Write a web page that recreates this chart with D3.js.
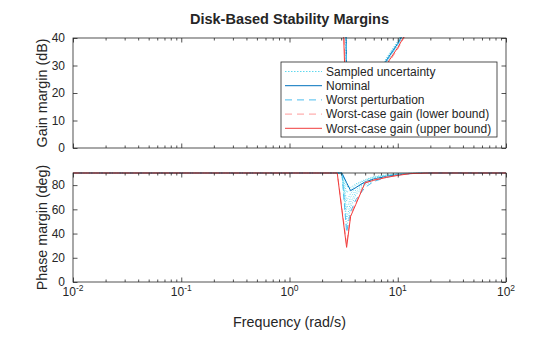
<!DOCTYPE html>
<html>
<head>
<meta charset="utf-8">
<script src="https://cdn.jsdelivr.net/npm/d3@7"></script>
<style>
  body { margin: 0; background: #fff; }
  svg { font-family: "Liberation Sans", Arial, Helvetica, sans-serif; }
</style>
</head>
<body>
<svg id="chart" width="560" height="337"></svg>
<script>
// frequency grid (rad/s), 300 dB stands for "off the chart" (infinite margin)
const freq = [0.01, 2.5, 2.76, 3.05, 3.37, 3.67, 4.1, 4.98, 6, 7.9, 10, 13, 20, 100];

// gain margin (dB)
const gainNominal = [300, 300, 300, 300, 14, 12, 13, 17, 23, 32, 38, 46, 60, 300];
const gainWorstPert = [300, 300, 300, 300, 13.5, 11.5, 12.5, 16.5, 22.6, 31.6, 37.6, 45.6, 59.6, 300];
const gainLower = [300, 300, 300, 70, 8.5, 8, 10, 14, 21, 30, 36, 44, 57.5, 300];
const gainUpper = [300, 300, 300, 60, 8, 7.5, 9.5, 13.5, 21.5, 30.5, 36.5, 44.5, 58, 300];
const gainSamples = [
  [300, 300, 300, 300, 13, 11, 12, 16, 22.3, 31.3, 37.3, 45.3, 59.3, 300],
  [300, 300, 300, 300, 13.5, 11.5, 12.5, 16.5, 22.8, 31.8, 37.8, 45.8, 59.8, 300],
  [300, 300, 300, 300, 14.5, 12.5, 13.5, 17.5, 23.3, 32.3, 38.3, 46.3, 60.3, 300],
  [300, 300, 300, 300, 15, 13, 14, 18, 23.6, 32.6, 38.6, 46.6, 60.6, 300],
  [300, 300, 300, 300, 15.5, 13.5, 14.5, 18.5, 23.9, 32.9, 38.9, 46.9, 60.9, 300]
];

// phase margin (deg)
const phaseNominal = [90, 90, 90, 90, 82, 75.4, 78, 82.6, 85, 87.2, 88.5, 89.5, 90, 90];
const phaseWorstPert = [90, 90, 90, 90, 41, 58, 68, 78, 83, 86.5, 88.5, 89.5, 90, 90];
const phaseLower = [90, 90, 90, 61, 31, 56, 65.5, 82.3, 84.5, 86.8, 88.2, 89.6, 90, 90];
const phaseUpper = [90, 90, 90, 59, 28.6, 54.2, 64.1, 81.8, 84, 86.4, 88, 89.5, 90, 90];
const phaseSamples = [
  [90, 90, 90, 90, 45, 62, 72, 80, 84, 87, 88.7, 89.5, 90, 90],
  [90, 90, 90, 90, 52, 66, 74, 81, 85, 87.5, 89, 89.6, 90, 90],
  [90, 90, 90, 89, 60, 70, 76, 82, 85.5, 87.8, 89, 89.7, 90, 90],
  [90, 90, 90, 90, 67, 73, 78, 83, 86, 88, 89.2, 89.7, 90, 90],
  [90, 90, 90, 89, 74, 76, 80, 84, 86.5, 88.2, 89.3, 89.8, 90, 90],
  [90, 90, 90, 90, 79, 78, 81, 84.5, 87, 88.5, 89.4, 89.8, 90, 90]
];

const gainTicks = [0, 10, 20, 30, 40];
const phaseTicks = [0, 20, 40, 60, 80];
const decades = [-2, -1, 0, 1, 2];

const legendLabels = ['Sampled uncertainty', 'Nominal', 'Worst perturbation',
  'Worst-case gain (lower bound)', 'Worst-case gain (upper bound)'];

const styles = {
  sample: {color: '#5fd8ee', dash: '1,1.6', width: 1},
  nominal: {color: '#0072BD', dash: null, width: 1},
  pert: {color: '#4DBEEE', dash: '6,4', width: 1},
  lower: {color: '#ff9a9a', dash: '6,4', width: 1},
  upper: {color: '#f03c3c', dash: null, width: 1}
};

const svg = d3.select('#chart');
const ink = '#262626';
const left = 73, right = 506;

const x = d3.scaleLog().domain([0.01, 100]).range([left, right]);
const yG = d3.scaleLinear().domain([0, 40]).range([148, 38]);
const yP = d3.scaleLinear().domain([0, 90]).range([282, 173]);

const minorTicks = x.ticks().filter(v => !decades.some(d => Math.abs(Math.log10(v) - d) < 1e-9));
const majorTicks = decades.map(d => Math.pow(10, d));

function panel(y, ticks, id, series) {
  const [bottom, top] = y.range();
  const g = svg.append('g');

  svg.append('clipPath').attr('id', id)
    .append('rect').attr('x', left).attr('y', top - 1)
    .attr('width', right - left).attr('height', bottom - top + 1);

  const plot = g.append('g').attr('clip-path', `url(#${id})`);
  const line = d3.line().x((d, i) => x(freq[i])).y(d => y(Math.min(d, 300)));

  series.forEach(s => {
    plot.append('path')
      .attr('d', line(s.values))
      .attr('fill', 'none')
      .attr('stroke', s.style.color)
      .attr('stroke-width', s.style.width)
      .attr('stroke-dasharray', s.style.dash);
  });

  // box
  g.append('rect').attr('x', left).attr('y', top)
    .attr('width', right - left).attr('height', bottom - top)
    .attr('fill', 'none').attr('stroke', ink).attr('stroke-width', 0.8);

  const tickStyle = sel => {
    sel.select('.domain').remove();
    sel.selectAll('line').attr('stroke', ink).attr('stroke-width', 0.8);
    sel.selectAll('text').attr('fill', ink).style('font-size', '12px');
  };

  g.append('g').attr('transform', `translate(${left},0)`)
    .call(d3.axisLeft(y).tickValues(ticks).tickSize(-4.5).tickPadding(8))
    .call(tickStyle);
  g.append('g').attr('transform', `translate(${right},0)`)
    .call(d3.axisRight(y).tickValues(ticks).tickSize(-4.5).tickFormat(''))
    .call(tickStyle);

  [[bottom, d3.axisBottom], [top, d3.axisTop]].forEach(([pos, ax]) => {
    g.append('g').attr('transform', `translate(0,${pos})`)
      .call(ax(x).tickValues(majorTicks).tickSize(-4.5).tickFormat(''))
      .call(tickStyle);
    g.append('g').attr('transform', `translate(0,${pos})`)
      .call(ax(x).tickValues(minorTicks).tickSize(-2.5).tickFormat(''))
      .call(tickStyle);
  });

  return g;
}

const gainSeries = [
  ...gainSamples.map(v => ({values: v, style: styles.sample})),
  {values: gainNominal, style: styles.nominal},
  {values: gainWorstPert, style: styles.pert},
  {values: gainLower, style: styles.lower},
  {values: gainUpper, style: styles.upper}
];
const phaseSeries = [
  ...phaseSamples.map(v => ({values: v, style: styles.sample})),
  {values: phaseNominal, style: styles.nominal},
  {values: phaseWorstPert, style: styles.pert},
  {values: phaseLower, style: styles.lower},
  {values: phaseUpper, style: styles.upper}
];

panel(yG, gainTicks, 'clipGain', gainSeries);
panel(yP, phaseTicks, 'clipPhase', phaseSeries);

// x tick labels (10^n)
const xl = svg.append('g').attr('fill', ink);
decades.forEach(d => {
  const t = xl.append('text')
    .attr('x', x(Math.pow(10, d)))
    .attr('y', 296)
    .attr('text-anchor', 'middle')
    .style('font-size', '12px');
  t.append('tspan').text('10');
  t.append('tspan').attr('dy', -5.5).style('font-size', '8.5px').text(d);
});

// titles and axis labels
svg.append('text').attr('x', (left + right) / 2).attr('y', 24)
  .attr('text-anchor', 'middle').attr('fill', ink)
  .style('font-size', '14.5px').style('font-weight', 'bold')
  .text('Disk-Based Stability Margins');

svg.append('text').attr('x', (left + right) / 2).attr('y', 327)
  .attr('text-anchor', 'middle').attr('fill', ink)
  .style('font-size', '14.3px').text('Frequency (rad/s)');

svg.append('text')
  .attr('transform', `translate(47,${(yG.range()[0] + yG.range()[1]) / 2}) rotate(-90)`)
  .attr('text-anchor', 'middle').attr('fill', ink)
  .style('font-size', '14.3px').text('Gain margin (dB)');

svg.append('text')
  .attr('transform', `translate(47,${(yP.range()[0] + yP.range()[1]) / 2}) rotate(-90)`)
  .attr('text-anchor', 'middle').attr('fill', ink)
  .style('font-size', '14.3px').text('Phase margin (deg)');

// legend
const legend = svg.append('g').attr('transform', 'translate(281,62)');
legend.append('rect').attr('width', 216).attr('height', 75)
  .attr('fill', '#fff').attr('stroke', ink).attr('stroke-width', 0.8);
const legendStyles = [styles.sample, styles.nominal, styles.pert, styles.lower, styles.upper];
legendLabels.forEach((label, i) => {
  const cy = 9.5 + i * 14.2;
  const st = legendStyles[i];
  legend.append('line').attr('x1', 4).attr('x2', 41).attr('y1', cy).attr('y2', cy)
    .attr('stroke', st.color).attr('stroke-width', st.width)
    .attr('stroke-dasharray', st.dash === '1,1.6' ? '1.5,1.5' : (st.dash ? '7,5' : null));
  legend.append('text').attr('x', 45).attr('y', cy + 4.3)
    .attr('fill', ink).style('font-size', '12px').text(label);
});
</script>
</body>
</html>
